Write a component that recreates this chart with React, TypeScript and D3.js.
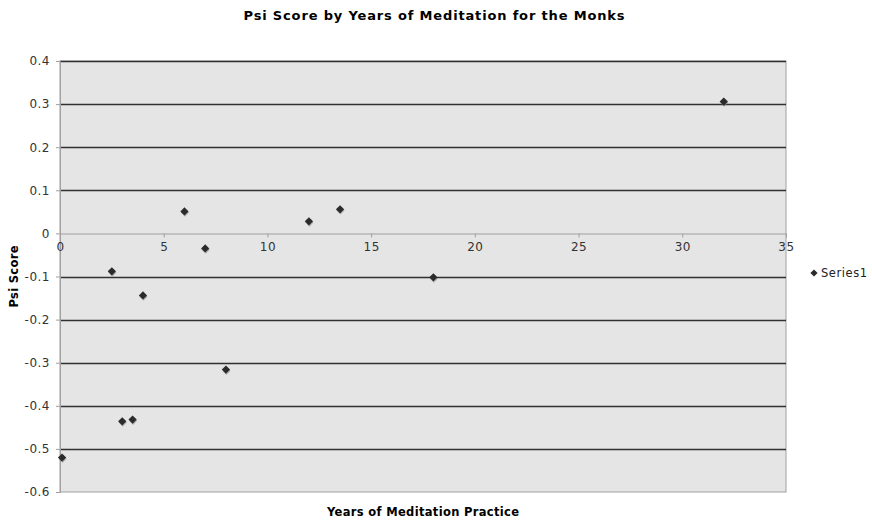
import React, { useEffect, useRef } from "react";
import * as d3 from "d3";

const years = [0.1, 2.5, 3, 3.5, 4, 6, 7, 8, 12, 13.5, 18, 32];
const psiScores = [-0.52, -0.088, -0.436, -0.432, -0.144, 0.051, -0.035, -0.316, 0.028, 0.056, -0.102, 0.306];
const xTicks = [0, 5, 10, 15, 20, 25, 30, 35];
const yTicks = [0.4, 0.3, 0.2, 0.1, 0, -0.1, -0.2, -0.3, -0.4, -0.5, -0.6];
const seriesName = "Series1";

export default function App() {
  const ref = useRef<SVGSVGElement>(null);

  useEffect(() => {
    document.body.style.margin = "0";
    const svg = d3.select(ref.current);
    svg.selectAll("*").remove();

    const width = 872,
      height = 520,
      margin = { top: 61, right: 86, bottom: 28, left: 60 };
    const font = "'DejaVu Sans', Verdana, sans-serif";

    const x = d3.scaleLinear().domain([0, 35]).range([margin.left, width - margin.right]);
    const y = d3.scaleLinear().domain([-0.6, 0.4]).range([height - margin.bottom, margin.top]);

    svg.attr("width", width).attr("height", height).style("font-family", font);

    // plot area
    svg
      .append("rect")
      .attr("x", x(0))
      .attr("y", y(0.4))
      .attr("width", x(35) - x(0))
      .attr("height", y(-0.6) - y(0.4))
      .attr("fill", "#e5e5e5")
      .attr("stroke", "#a0a0a0");

    // gridlines
    svg
      .append("g")
      .selectAll("line")
      .data(yTicks.filter((d) => d !== 0 && d !== -0.6))
      .enter()
      .append("line")
      .attr("x1", x(0))
      .attr("x2", x(35))
      .attr("y1", (d) => Math.round(y(d)) + 0.5)
      .attr("y2", (d) => Math.round(y(d)) + 0.5)
      .attr("stroke", "#303030")
      .attr("stroke-width", 1.3);

    // y axis
    const yAxis = svg
      .append("g")
      .attr("transform", `translate(${x(0)},0)`)
      .call(d3.axisLeft(y).tickValues(yTicks).tickSize(4).tickFormat((d) => String(d)));
    yAxis.select(".domain").attr("stroke", "#a0a0a0");
    yAxis.selectAll(".tick line").attr("stroke", "#a0a0a0");
    yAxis
      .selectAll(".tick text")
      .attr("x", -10)
      .attr("font-size", 12)
      .attr("letter-spacing", 0.5)
      .attr("font-family", font)
      .attr("fill", "#333");

    // x axis along zero
    const xAxis = svg
      .append("g")
      .attr("transform", `translate(0,${Math.round(y(0)) + 0.5})`)
      .call(d3.axisBottom(x).tickValues(xTicks).tickSize(4).tickFormat((d) => String(d)));
    xAxis.select(".domain").attr("stroke", "#a0a0a0");
    xAxis.selectAll(".tick line").attr("stroke", "#a0a0a0");
    xAxis
      .selectAll(".tick text")
      .attr("y", 9)
      .attr("font-size", 12)
      .attr("letter-spacing", 0.5)
      .attr("font-family", font)
      .attr("fill", "#333");

    // points (square rotated 45deg)
    const diamond = d3.symbol().type(d3.symbolSquare).size(34);
    const pts = years.map((v, i) => ({ x: v, y: psiScores[i] }));
    svg
      .append("g")
      .selectAll("path")
      .data(pts)
      .enter()
      .append("path")
      .attr("d", diamond)
      .attr("transform", (d) => `translate(${x(d.x) + 0.5},${y(d.y) + 1.2}) rotate(45)`)
      .attr("fill", "#8a8a8a")
      .attr("opacity", 0.6);
    svg
      .append("g")
      .selectAll("path")
      .data(pts)
      .enter()
      .append("path")
      .attr("d", diamond)
      .attr("transform", (d) => `translate(${x(d.x)},${y(d.y)}) rotate(45)`)
      .attr("fill", "#2b2b2b");

    // titles
    svg
      .append("text")
      .attr("x", 434)
      .attr("y", 20)
      .attr("text-anchor", "middle")
      .attr("font-weight", "bold")
      .attr("font-size", 13)
      .attr("textLength", 381)
      .attr("lengthAdjust", "spacing")
      .text("Psi Score by Years of Meditation for the Monks");

    svg
      .append("text")
      .attr("x", 423)
      .attr("y", 516)
      .attr("text-anchor", "middle")
      .attr("font-weight", "bold")
      .attr("font-size", 11.5)
      .attr("textLength", 192)
      .attr("lengthAdjust", "spacing")
      .text("Years of Meditation Practice");

    svg
      .append("text")
      .attr("transform", `translate(18,${y(-0.1)}) rotate(-90)`)
      .attr("text-anchor", "middle")
      .attr("font-weight", "bold")
      .attr("font-size", 11.5)
      .attr("textLength", 62)
      .attr("lengthAdjust", "spacing")
      .text("Psi Score");

    // legend
    svg
      .append("path")
      .attr("d", d3.symbol().type(d3.symbolSquare).size(26)())
      .attr("transform", "translate(814,273) rotate(45)")
      .attr("fill", "#2b2b2b");
    svg
      .append("text")
      .attr("x", 821)
      .attr("y", 277)
      .attr("font-size", 11.5)
      .attr("fill", "#222")
      .attr("textLength", 46)
      .attr("lengthAdjust", "spacing")
      .text(seriesName);
  }, []);

  return <svg ref={ref} style={{ display: "block" }}></svg>;
}
